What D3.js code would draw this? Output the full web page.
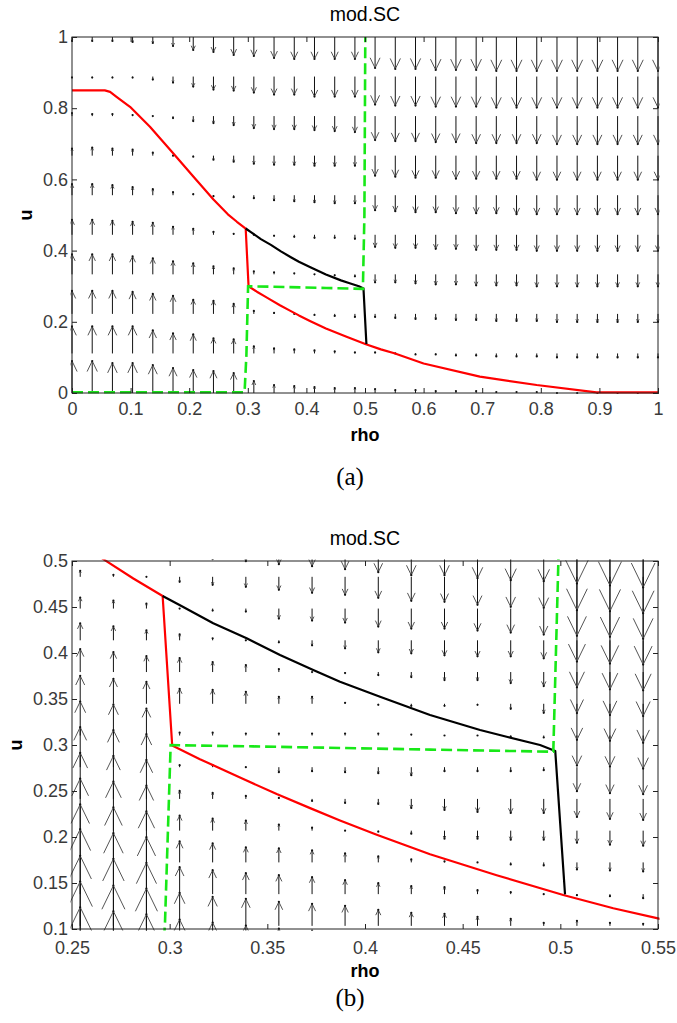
<!DOCTYPE html>
<html>
<head>
<meta charset="utf-8">
<script src="https://cdn.jsdelivr.net/npm/d3@7"></script>
<style>
  body { margin: 0; background: #fff; }
  svg { display: block; }
  text { font-family: "Liberation Sans", Arial, Helvetica, sans-serif; }
</style>
</head>
<body>
<div id="chart"></div>
<script>

/////////////////////
// data read off  //
/////////////////////

// equilibrium curve (red), both panels
var redRho = [0, 0.056, 0.065, 0.076, 0.099, 0.133, 0.173, 0.207, 0.241, 0.266, 0.2814, 0.2964,
    0.3013, 0.3155, 0.329, 0.3377, 0.3548, 0.3719, 0.3872, 0.406, 0.4333, 0.4674, 0.5015, 0.5271, 0.55,
    0.6, 0.696, 0.793, 0.895, 0.91, 1];
var redU = [0.85, 0.85, 0.846, 0.832, 0.804, 0.748, 0.673, 0.608, 0.544, 0.502, 0.481, 0.462,
    0.2995, 0.2846, 0.2715, 0.263, 0.2467, 0.2314, 0.218, 0.2025, 0.1812, 0.1585, 0.137, 0.1225, 0.1116,
    0.083, 0.046, 0.0225, 0.002, 0.002, 0.002];

// black trajectory
var blackRho = [0.2964, 0.3053, 0.3223, 0.3394, 0.3565, 0.3735, 0.3872, 0.4077, 0.4333, 0.4589, 0.4725, 0.4896, 0.4974, 0.5024];
var blackU = [0.462, 0.452, 0.4323, 0.416, 0.3978, 0.3815, 0.3688, 0.3524, 0.3326, 0.3163, 0.309, 0.3, 0.2935, 0.1377];

// green dashed boundary
var greenRho = [0, 0.2945, 0.2976, 0.3005, 0.3428, 0.4335, 0.4964, 0.499, 0.5005];
var greenU = [0.002, 0.002, 0.106, 0.2998, 0.2985, 0.295, 0.2927, 0.5, 1.0];

// quiver grid, panel (a)
var rhoA = [0, 0.0345, 0.069, 0.1034, 0.1379, 0.1724, 0.2069, 0.2414, 0.2759, 0.3103, 0.3448, 0.3793,
    0.4138, 0.4483, 0.4828, 0.5172, 0.5517, 0.5862, 0.6207, 0.6552, 0.6897, 0.7241, 0.7586, 0.7931,
    0.8276, 0.8621, 0.8966, 0.931, 0.9655, 1];
var uA = [0, 0.1111, 0.2222, 0.3333, 0.4444, 0.5556, 0.6667, 0.7778, 0.8889, 1];

// vertical component of the field, one row per uA value (arbitrary quiver units)
var fieldA = [
    [32, 32, 30, 30, 28, 25, 23, 22, 20, 12, 8, 7, 6, 5, 5, 4, 3, 3, 2, 2, 2, 1, 1, 1, 0, 0, 0, 0, 0, 0],
    [27, 27, 27, 27, 23, 20, 19, 15, 14, 7, 5, 4, 3, 2, 1, 1, 0, -1, -1, -2, -2, -3, -3, -3, -4, -4, -4, -4, -4, -4],
    [23, 23, 23, 22, 20, 18, 14, 13, 10, 3, 1, 0, -1, -2, -3, -3, -4, -5, -5, -6, -6, -7, -7, -7, -8, -8, -8, -8, -8, -8],
    [20, 20, 20, 18, 16, 13, 11, 8, 6, 3, 2, 1, 0, -1, -2, -8, -8, -9, -10, -10, -11, -11, -11, -12, -12, -12, -12, -12, -12, -12],
    [15, 15, 14, 13, 12, 8, 6, 3, 1, 0, -1, -2, -3, -3, -4, -12, -13, -13, -14, -14, -15, -15, -15, -16, -16, -16, -16, -16, -16, -16],
    [11, 11, 10, 8, 6, 3, 1, -1, -2, -3, -5, -6, -7, -8, -8, -15, -16, -17, -17, -18, -18, -18, -19, -19, -19, -19, -19, -19, -19, -19],
    [7, 8, 7, 6, 3, 0, -1, -4, -6, -8, -9, -9, -10, -10, -10, -20, -21, -22, -22, -23, -23, -23, -23, -24, -24, -24, -24, -24, -24, -24],
    [3, 2, 2, 1, 0, -2, -5, -7, -9, -12, -13, -13, -14, -15, -16, -24, -25, -25, -26, -26, -27, -27, -27, -27, -28, -28, -28, -28, -28, -28],
    [-1, -1, -1, -1, -3, -6, -10, -13, -14, -16, -18, -18, -20, -20, -20, -28, -29, -29, -30, -30, -30, -31, -31, -31, -31, -31, -31, -31, -31, -31],
    [-4, -4, -4, -5, -6, -9, -13, -15, -18, -19, -21, -22, -22, -22, -22, -31, -32, -32, -33, -33, -33, -34, -34, -34, -34, -34, -34, -34, -34, -34]
];

// quiver grid, panel (b)
var rhoB = [0.2542, 0.2712, 0.2881, 0.3051, 0.322, 0.339, 0.3559, 0.3729, 0.3898, 0.4068, 0.4237,
    0.4407, 0.4576, 0.4746, 0.4915, 0.5085, 0.5254, 0.5424];
var uB = [0.0345, 0.069, 0.1034, 0.1379, 0.1724, 0.2069, 0.2414, 0.2759, 0.3103, 0.3448, 0.3793,
    0.4138, 0.4483, 0.4828, 0.5172, 0.5517];

var fieldB = [
    [82, 78, 75, 44, 40, 37, 34, 32, 30, 26, 22, 20, 17, 15, 10, 17, 15, 14],
    [76, 72, 69, 38, 35, 32, 29, 27, 25, 21, 17, 16, 13, 11, 7, 11, 9, 8],
    [70, 67, 63, 33, 29, 27, 24, 22, 20, 16, 13, 12, 9, 7, 3, 5, 3, 2],
    [65, 61, 57, 27, 24, 21, 19, 17, 14, 11, 8, 7, 4, 2, 0, -1, -2, -4],
    [58, 55, 51, 21, 19, 15, 14, 12, 9, 6, 3, 1, 0, -2, -3, -7, -8, -9],
    [52, 49, 45, 15, 12, 10, 6, 3, 0, -1, -3, -8, -8, -9, -9, -12, -14, -15],
    [46, 43, 39, 8, 6, 3, 1, -2, -4, -5, -9, -11, -13, -14, -14, -18, -20, -21],
    [40, 37, 33, 2, 2, 0, -5, -4, -5, -6, -8, -4, -4, -4, -3, -24, -26, -27],
    [34, 31, 27, 3, 3, 2, 2, 2, 2, 2, 1, 0, 0, -1, -2, -30, -31, -33],
    [28, 25, 22, 15, 14, 12, 7, 7, 1, -1, -2, -2, -1, -5, -9, -36, -37, -39],
    [23, 20, 16, 14, 10, 7, 3, 0, -1, -3, -5, -8, -8, -11, -14, -41, -43, -44],
    [17, 14, 10, 6, 2, 0, -2, -5, -8, -12, -13, -15, -16, -16, -18, -47, -49, -50],
    [11, 8, 5, 0, -2, -3, -10, -12, -14, -18, -20, -20, -22, -24, -26, -53, -55, -56],
    [6, 2, 0, -5, -8, -10, -13, -16, -18, -21, -24, -25, -28, -30, -31, -59, -60, -62],
    [1, -3, -5, -10, -14, -16, -19, -21, -24, -27, -30, -30, -33, -35, -36, -65, -66, -68],
    [-4, -8, -10, -15, -20, -22, -25, -26, -30, -33, -36, -36, -39, -41, -42, -70, -72, -74]
];

// arrow length in u per quiver unit (the quiver autoscale of each plot)
var quiverScaleA = 0.00281;
var quiverScaleB = 0.001087;

var xTicksA = [0, 0.1, 0.2, 0.3, 0.4, 0.5, 0.6, 0.7, 0.8, 0.9, 1];
var yTicksA = [0, 0.2, 0.4, 0.6, 0.8, 1];
var xTicksB = [0.25, 0.3, 0.35, 0.4, 0.45, 0.5, 0.55];
var yTicksB = [0.1, 0.15, 0.2, 0.25, 0.3, 0.35, 0.4, 0.45, 0.5];

//////////////////
// the drawing //
//////////////////

var width = 677,
    height = 1023;

var svg = d3.select("#chart").append("svg")
    .attr("width", width)
    .attr("height", height);

svg.append("rect")
    .attr("width", width)
    .attr("height", height)
    .attr("fill", "#fff");

function drawPanel(p) {
    var x = d3.scaleLinear().domain(p.xDomain).range([p.left, p.right]);
    var y = d3.scaleLinear().domain(p.yDomain).range([p.bottom, p.top]);
    var g = svg.append("g");

    var clipId = "clip-" + p.id;
    svg.append("clipPath")
        .attr("id", clipId)
        .append("rect")
        .attr("x", p.left - 1.5)
        .attr("y", p.top - 1.5)
        .attr("width", p.right - p.left + 3)
        .attr("height", p.bottom - p.top + 3);

    var plot = g.append("g").attr("clip-path", "url(#" + clipId + ")");

    // ---- quiver ---- //
    var arrows = [];
    p.uGrid.forEach(function(u, j) {
        p.rhoGrid.forEach(function(rho, i) {
            var bx = x(rho),
                by = y(u),
                ty = y(u + p.field[j][i] * p.scale);
            arrows.push({ bx: bx, by: by, ty: ty });
        });
    });

    plot.selectAll("path.shaft")
        .data(arrows)
        .enter()
        .append("path")
        .attr("class", "shaft")
        .attr("d", function(d) {
            return "M" + d.bx + "," + d.by + "L" + d.bx + "," + d.ty;
        })
        .attr("stroke", "#111")
        .attr("stroke-width", 1)
        .attr("fill", "none");

    plot.selectAll("path.head")
        .data(arrows.filter(function(d) { return Math.abs(d.ty - d.by) > 2; }))
        .enter()
        .append("path")
        .attr("class", "head")
        .attr("d", function(d) {
            var len = d.ty - d.by,
                back = d.ty - 0.33 * len,
                hw = 0.16 * Math.abs(len);
            return "M" + (d.bx - hw) + "," + back + "L" + d.bx + "," + d.ty + "L" + (d.bx + hw) + "," + back;
        })
        .attr("stroke", "#555")
        .attr("stroke-width", 1)
        .attr("fill", "none");

    plot.selectAll("circle.tip")
        .data(arrows)
        .enter()
        .append("circle")
        .attr("class", "tip")
        .attr("cx", function(d) { return d.bx; })
        .attr("cy", function(d) { return d.ty; })
        .attr("r", 1.1)
        .attr("fill", "#111");

    // ---- curves ---- //
    function curve(rhos, us) {
        return d3.line()
            .x(function(d, i) { return x(rhos[i]); })
            .y(function(d, i) { return y(us[i]); })(rhos);
    }

    plot.append("path")
        .attr("d", curve(redRho, redU))
        .attr("fill", "none")
        .attr("stroke", "#ff0000")
        .attr("stroke-width", 2.2)
        .attr("stroke-linejoin", "round");

    plot.append("path")
        .attr("d", curve(blackRho, blackU))
        .attr("fill", "none")
        .attr("stroke", "#000")
        .attr("stroke-width", 2.2)
        .attr("stroke-linejoin", "round");

    plot.append("path")
        .attr("d", curve(greenRho, greenU))
        .attr("fill", "none")
        .attr("stroke", "#18e818")
        .attr("stroke-width", 2.6)
        .attr("stroke-dasharray", "11,5");

    // ---- axes (matlab style, ticks inside on all sides) ---- //
    g.append("rect")
        .attr("x", p.left)
        .attr("y", p.top)
        .attr("width", p.right - p.left)
        .attr("height", p.bottom - p.top)
        .attr("fill", "none")
        .attr("stroke", "#222")
        .attr("stroke-width", 1);

    var fmt = function(d) { return String(+d.toFixed(2)); };

    var ax = g.append("g")
        .attr("transform", "translate(0," + p.bottom + ")")
        .call(d3.axisBottom(x).tickValues(p.xTicks).tickSizeInner(-5).tickSizeOuter(0).tickPadding(p.xPad).tickFormat(fmt));
    var ay = g.append("g")
        .attr("transform", "translate(" + p.left + ",0)")
        .call(d3.axisLeft(y).tickValues(p.yTicks).tickSizeInner(-5).tickSizeOuter(0).tickPadding(4).tickFormat(fmt));
    var axT = g.append("g")
        .attr("transform", "translate(0," + p.top + ")")
        .call(d3.axisTop(x).tickValues(p.xTicks).tickSizeInner(-5).tickSizeOuter(0).tickFormat(""));
    var ayR = g.append("g")
        .attr("transform", "translate(" + p.right + ",0)")
        .call(d3.axisRight(y).tickValues(p.yTicks).tickSizeInner(-5).tickSizeOuter(0).tickFormat(""));

    [ax, ay, axT, ayR].forEach(function(a) {
        a.select(".domain").remove();
        a.selectAll("line").attr("stroke", "#222");
        a.selectAll("text")
            .attr("fill", "#3a3a3a")
            .style("font-family", "'Liberation Sans', Arial, sans-serif")
            .style("font-size", "18px");
    });

    // ---- labels ---- //
    g.append("text")
        .attr("x", (p.left + p.right) / 2)
        .attr("y", p.top - 16.5)
        .attr("text-anchor", "middle")
        .style("font-size", "19.5px")
        .attr("fill", "#000")
        .text("mod.SC");

    g.append("text")
        .attr("x", (p.left + p.right) / 2)
        .attr("y", p.bottom + 48)
        .attr("text-anchor", "middle")
        .style("font-size", "18px")
        .style("font-weight", "bold")
        .text("rho");

    g.append("text")
        .attr("transform", "translate(" + p.uLabelX + "," + (p.top + p.bottom) / 2 + ") rotate(-90)")
        .attr("text-anchor", "middle")
        .style("font-size", "18px")
        .style("font-weight", "bold")
        .text("u");

    g.append("text")
        .attr("x", 350)
        .attr("y", p.captionY)
        .attr("text-anchor", "middle")
        .style("font-family", "'Liberation Serif', 'DejaVu Serif', serif")
        .style("font-size", "25px")
        .text(p.caption);
}

drawPanel({
    id: "a",
    left: 72, right: 658, top: 37, bottom: 393,
    xDomain: [0, 1], yDomain: [0, 1],
    xTicks: xTicksA, yTicks: yTicksA, xPad: 9,
    rhoGrid: rhoA, uGrid: uA, field: fieldA, scale: quiverScaleA,
    uLabelX: 32, captionY: 485, caption: "(a)"
});

drawPanel({
    id: "b",
    left: 72, right: 658, top: 561, bottom: 929,
    xDomain: [0.25, 0.55], yDomain: [0.1, 0.5],
    xTicks: xTicksB, yTicks: yTicksB, xPad: 12,
    rhoGrid: rhoB, uGrid: uB, field: fieldB, scale: quiverScaleB,
    uLabelX: 22, captionY: 1006, caption: "(b)"
});

</script>
</body>
</html>
